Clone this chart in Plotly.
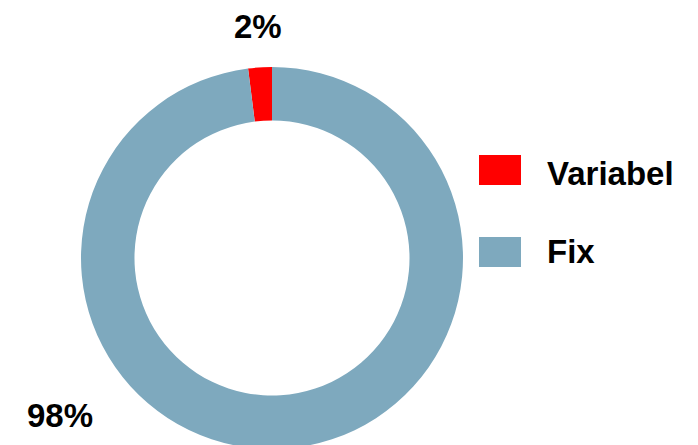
import plotly.graph_objects as go

# Share of costs
labels = ["Variabel", "Fix"]
values = [2, 98]
colors = ["#FF0000", "#7EA9BE"]

W, H = 698, 445
OFF = 8  # page body margin


def px(x, y):
    """Screen pixel position -> paper coordinates (margins are zero)."""
    return (x - OFF) / W, 1 - (y - OFF) / H


fig = go.Figure()

cx, cy, r = 272, 258, 191
x0, y1 = px(cx - r, cy - r)
x1, y0 = px(cx + r, cy + r)
total = sum(values)

# Variabel slice ends at 12 o'clock, sitting just left of the top.
fig.add_trace(go.Pie(
    labels=labels,
    values=values,
    marker=dict(colors=colors, line=dict(width=0)),
    hole=0.72,
    sort=False,
    direction="clockwise",
    rotation=-360 * values[0] / total,
    textinfo="none",
    hoverinfo="label+percent",
    showlegend=False,
    domain=dict(x=[x0, x1], y=[y0, y1]),
))

font = dict(family="Arial, Liberation Sans, sans-serif", size=33, color="black", weight="bold")

# Percent labels
label_pos = [(258, 26), (60, 415)]
for v, (x, y) in zip(values, label_pos):
    ax, ay = px(x, y)
    fig.add_annotation(
        x=ax, y=ay, xref="paper", yref="paper",
        text=f"{round(100 * v / total)}%",
        showarrow=False, xanchor="center", yanchor="middle", font=font,
    )

# Custom legend with large swatches
swatch_rows = [170, 252]
text_rows = [173, 251]
for name, color, yc, yt in zip(labels, colors, swatch_rows, text_rows):
    sx0, sy0 = px(479, yc - 15)
    sx1, sy1 = px(521, yc + 15)
    fig.add_shape(
        type="rect", xref="paper", yref="paper",
        x0=sx0, x1=sx1, y0=sy1, y1=sy0,
        fillcolor=color, line=dict(width=0),
    )
    tx, ty = px(545, yt)
    fig.add_annotation(
        x=tx, y=ty, xref="paper", yref="paper",
        text=name, showarrow=False, xanchor="left", yanchor="middle", font=font,
    )

fig.update_layout(
    width=W,
    height=H,
    margin=dict(l=0, r=0, t=0, b=0),
    paper_bgcolor="white",
    plot_bgcolor="white",
)

fig.write_html("out.html")
